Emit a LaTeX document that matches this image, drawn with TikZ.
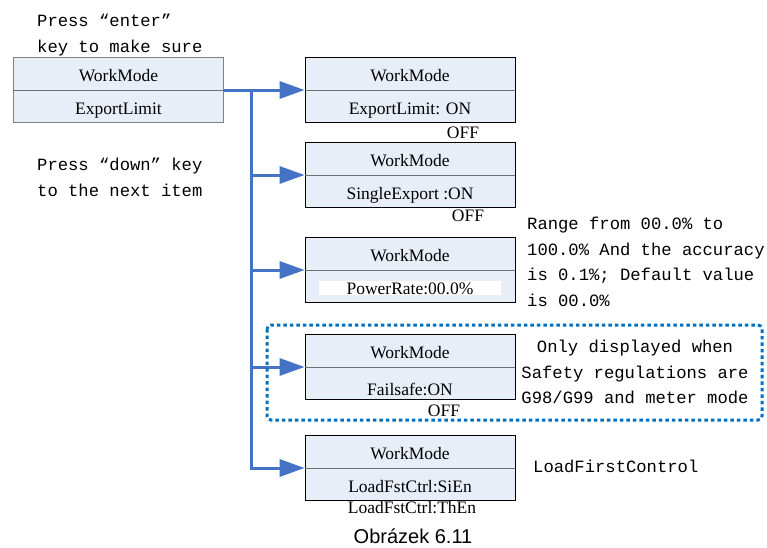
\documentclass[tikz,border=0pt]{standalone}
\usepackage{fontspec}
\setmainfont{Liberation Serif}
\newfontfamily\notefont{Liberation Mono}
\newfontfamily\capfont{Liberation Sans}
\usetikzlibrary{shapes.multipart,arrows.meta}

\definecolor{boxfill}{HTML}{E8EEF8}
\definecolor{splitgray}{HTML}{707070}
\definecolor{linkblue}{HTML}{4472C4}
\definecolor{dotblue}{HTML}{0070C0}

\newcommand{\mstrut}{\rule[-6pt]{0pt}{28pt}}
\newcommand{\whitebar}[1]{{\setlength\fboxsep{0pt}\colorbox{white}{\makebox[182pt]{\rule[-1pt]{0pt}{14pt}#1}}}}

\tikzset{
  menu/.style={rectangle split, rectangle split parts=2,
    rectangle split draw splits=false, draw=black, fill=boxfill,
    line width=0.8pt, minimum width=210pt, inner xsep=4pt, inner ysep=2pt,
    font=\fontsize{17.5}{20}\selectfont},
  splitline/.style={draw=splitgray, line width=1pt},
  link/.style={draw=linkblue, line width=3pt, -{Triangle[length=25pt,width=17pt]}},
  label text/.style={font=\fontsize{17.5}{20}\selectfont, inner sep=0pt, anchor=base},
  note/.style={font=\notefont\fontsize{17.2}{25.6}\selectfont, inner sep=0pt},
  frame/.style={draw=dotblue, line width=3pt, dash pattern=on 3.5pt off 3pt, rounded corners=4pt},
}

\begin{document}
\begin{tikzpicture}[x=1pt,y=-1pt]
\useasboundingbox (0,0) rectangle (767,547);

% menu screens
\node[menu,draw=gray] (start) at (118.5,90) {\mstrut WorkMode\nodepart{two}\mstrut ExportLimit};
\node[menu] (b1) at (410,90) {\mstrut WorkMode\nodepart{two}\mstrut ExportLimit: ON};
\node[menu] (b2) at (410,175) {\mstrut WorkMode\nodepart{two}\mstrut SingleExport :ON};
\node[menu] (b3) at (410,270) {\mstrut WorkMode\nodepart{two}\mstrut\whitebar{PowerRate:00.0\%}};
\node[menu] (b4) at (410,367) {\mstrut WorkMode\nodepart{two}\mstrut\raisebox{-4pt}{Failsafe:ON}};
\node[menu] (b5) at (410,468) {\mstrut WorkMode\nodepart{two}\mstrut LoadFstCtrl:SiEn};
\foreach \n in {start,b1,b2,b3,b4,b5}
  \draw[splitline] (\n.text split west) -- (\n.text split east);

% other values
\node[label text] (off1) at (463,138) {OFF};
\node[label text] (off2) at (468,221) {OFF};
\node[label text] (off4) at (444,416) {OFF};
\node[label text] (then) at (412,513) {LoadFstCtrl:ThEn};

% connectors
\coordinate (fork) at ([xshift=28pt]start.text split east);
\draw[link] (start.text split east) -- (b1.text split west);
\foreach \n in {b2,b3,b4,b5}
  \draw[link] (fork) |- (\n.text split west);

% notes
\node[note,anchor=north west,align=left] (enter) at (37,14)
  {Press “enter”\\key to make sure};
\node[note,anchor=north west,align=left] (down) at (37,158)
  {Press “down” key\\to the next item};
\node[note,anchor=north west,align=left] (range) at (527,217)
  {Range from 00.0\% to\\100.0\% And the accuracy\\is 0.1\%; Default value\\is 00.0\%};
\node[note,anchor=north,align=center] (only) at (635,340)
  {Only displayed when\\Safety regulations are\\G98/G99 and meter mode};
\node[note,anchor=north west] (lfc) at (533,460) {LoadFirstControl};

\draw[frame] (267,325) rectangle (762,420);

\node[font=\capfont\fontsize{20}{24}\selectfont, inner sep=0pt, anchor=base] (caption) at (413,543) {Obrázek 6.11};
\end{tikzpicture}
\end{document}
